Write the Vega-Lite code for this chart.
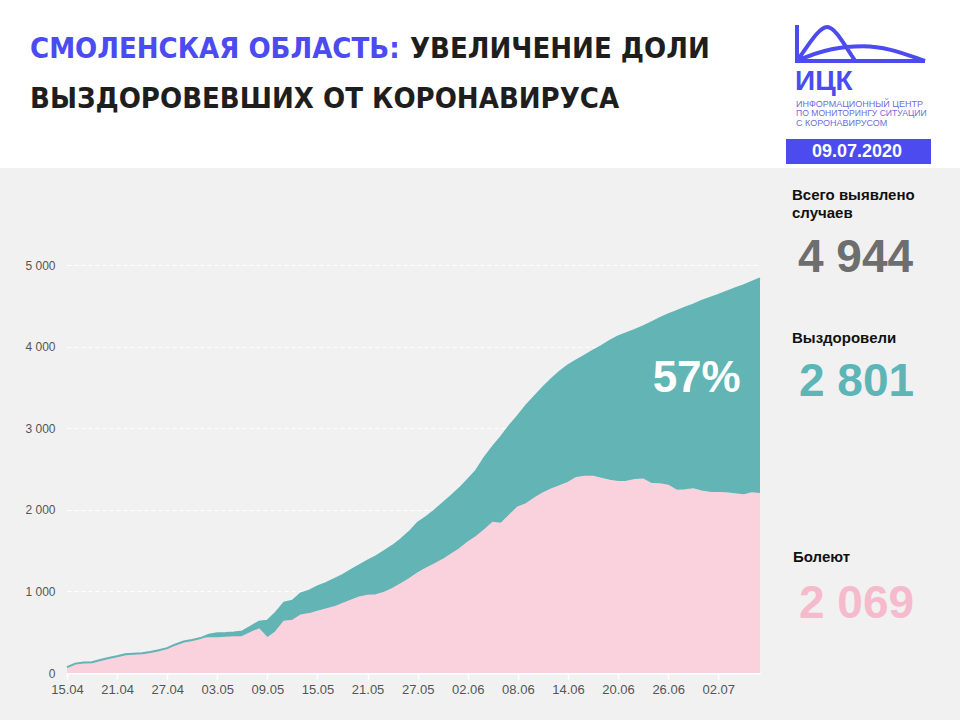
{
  "$schema": "https://vega.github.io/schema/vega-lite/v6.json",
  "width": 960,
  "height": 552,
  "autosize": {"type": "none"},
  "padding": {"left": 0, "top": 168, "right": 0, "bottom": 0},
  "background": "white",
  "config": {"view": {"fill": "#f1f1f1", "stroke": null}, "font": "Liberation Sans"},
  "layer": [
    {
      "data": {"values": [
        {"date": "2020-04-15", "sick": 72, "recovered": 0},
        {"date": "2020-04-16", "sick": 115, "recovered": 0},
        {"date": "2020-04-17", "sick": 128, "recovered": 0},
        {"date": "2020-04-18", "sick": 133, "recovered": 0},
        {"date": "2020-04-19", "sick": 160, "recovered": 0},
        {"date": "2020-04-20", "sick": 185, "recovered": 0},
        {"date": "2020-04-21", "sick": 205, "recovered": 0},
        {"date": "2020-04-22", "sick": 230, "recovered": 0},
        {"date": "2020-04-23", "sick": 237, "recovered": 0},
        {"date": "2020-04-24", "sick": 241, "recovered": 0},
        {"date": "2020-04-25", "sick": 258, "recovered": 0},
        {"date": "2020-04-26", "sick": 278, "recovered": 0},
        {"date": "2020-04-27", "sick": 305, "recovered": 0},
        {"date": "2020-04-28", "sick": 350, "recovered": 0},
        {"date": "2020-04-29", "sick": 385, "recovered": 0},
        {"date": "2020-04-30", "sick": 404, "recovered": 0},
        {"date": "2020-05-01", "sick": 420, "recovered": 8},
        {"date": "2020-05-02", "sick": 425, "recovered": 45},
        {"date": "2020-05-03", "sick": 425, "recovered": 61},
        {"date": "2020-05-04", "sick": 432, "recovered": 58},
        {"date": "2020-05-05", "sick": 437, "recovered": 60},
        {"date": "2020-05-06", "sick": 442, "recovered": 68},
        {"date": "2020-05-07", "sick": 490, "recovered": 80},
        {"date": "2020-05-08", "sick": 535, "recovered": 94},
        {"date": "2020-05-09", "sick": 425, "recovered": 215},
        {"date": "2020-05-10", "sick": 500, "recovered": 240},
        {"date": "2020-05-11", "sick": 629, "recovered": 233},
        {"date": "2020-05-12", "sick": 640, "recovered": 246},
        {"date": "2020-05-13", "sick": 705, "recovered": 270},
        {"date": "2020-05-14", "sick": 722, "recovered": 288},
        {"date": "2020-05-15", "sick": 752, "recovered": 308},
        {"date": "2020-05-16", "sick": 780, "recovered": 320},
        {"date": "2020-05-17", "sick": 805, "recovered": 345},
        {"date": "2020-05-18", "sick": 845, "recovered": 355},
        {"date": "2020-05-19", "sick": 886, "recovered": 374},
        {"date": "2020-05-20", "sick": 925, "recovered": 395},
        {"date": "2020-05-21", "sick": 947, "recovered": 429},
        {"date": "2020-05-22", "sick": 952, "recovered": 478},
        {"date": "2020-05-23", "sick": 985, "recovered": 510},
        {"date": "2020-05-24", "sick": 1030, "recovered": 530},
        {"date": "2020-05-25", "sick": 1090, "recovered": 550},
        {"date": "2020-05-26", "sick": 1150, "recovered": 580},
        {"date": "2020-05-27", "sick": 1222, "recovered": 618},
        {"date": "2020-05-28", "sick": 1280, "recovered": 630},
        {"date": "2020-05-29", "sick": 1330, "recovered": 660},
        {"date": "2020-05-30", "sick": 1385, "recovered": 695},
        {"date": "2020-05-31", "sick": 1450, "recovered": 720},
        {"date": "2020-06-01", "sick": 1516, "recovered": 747},
        {"date": "2020-06-02", "sick": 1600, "recovered": 770},
        {"date": "2020-06-03", "sick": 1665, "recovered": 815},
        {"date": "2020-06-04", "sick": 1750, "recovered": 890},
        {"date": "2020-06-05", "sick": 1842, "recovered": 931},
        {"date": "2020-06-06", "sick": 1830, "recovered": 1066},
        {"date": "2020-06-07", "sick": 1930, "recovered": 1100},
        {"date": "2020-06-08", "sick": 2030, "recovered": 1120},
        {"date": "2020-06-09", "sick": 2070, "recovered": 1210},
        {"date": "2020-06-10", "sick": 2140, "recovered": 1250},
        {"date": "2020-06-11", "sick": 2200, "recovered": 1300},
        {"date": "2020-06-12", "sick": 2250, "recovered": 1350},
        {"date": "2020-06-13", "sick": 2290, "recovered": 1403},
        {"date": "2020-06-14", "sick": 2330, "recovered": 1440},
        {"date": "2020-06-15", "sick": 2390, "recovered": 1440},
        {"date": "2020-06-16", "sick": 2406, "recovered": 1484},
        {"date": "2020-06-17", "sick": 2406, "recovered": 1544},
        {"date": "2020-06-18", "sick": 2380, "recovered": 1625},
        {"date": "2020-06-19", "sick": 2357, "recovered": 1713},
        {"date": "2020-06-20", "sick": 2340, "recovered": 1785},
        {"date": "2020-06-21", "sick": 2345, "recovered": 1820},
        {"date": "2020-06-22", "sick": 2365, "recovered": 1839},
        {"date": "2020-06-23", "sick": 2370, "recovered": 1878},
        {"date": "2020-06-24", "sick": 2315, "recovered": 1983},
        {"date": "2020-06-25", "sick": 2312, "recovered": 2038},
        {"date": "2020-06-26", "sick": 2295, "recovered": 2098},
        {"date": "2020-06-27", "sick": 2234, "recovered": 2201},
        {"date": "2020-06-28", "sick": 2240, "recovered": 2237},
        {"date": "2020-06-29", "sick": 2251, "recovered": 2264},
        {"date": "2020-06-30", "sick": 2225, "recovered": 2335},
        {"date": "2020-07-01", "sick": 2210, "recovered": 2385},
        {"date": "2020-07-02", "sick": 2206, "recovered": 2426},
        {"date": "2020-07-03", "sick": 2202, "recovered": 2470},
        {"date": "2020-07-04", "sick": 2190, "recovered": 2523},
        {"date": "2020-07-05", "sick": 2177, "recovered": 2573},
        {"date": "2020-07-06", "sick": 2202, "recovered": 2591},
        {"date": "2020-07-07", "sick": 2194, "recovered": 2643}
      ]},
      "transform": [{"fold": ["sick", "recovered"], "as": ["k", "v"]}],
      "mark": {"type": "area", "opacity": 1, "line": {"color": "white", "strokeWidth": 2}},
      "encoding": {
        "x": {
          "field": "date", "type": "temporal",
          "scale": {"type": "utc", "range": [67, 760],
            "domain": [{"year": 2020, "month": 4, "date": 15, "utc": true}, {"year": 2020, "month": 7, "date": 7, "utc": true}]},
          "axis": {
            "values": [
              {"year": 2020, "month": 4, "date": 15, "utc": true},
              {"year": 2020, "month": 4, "date": 21, "utc": true},
              {"year": 2020, "month": 4, "date": 27, "utc": true},
              {"year": 2020, "month": 5, "date": 3, "utc": true},
              {"year": 2020, "month": 5, "date": 9, "utc": true},
              {"year": 2020, "month": 5, "date": 15, "utc": true},
              {"year": 2020, "month": 5, "date": 21, "utc": true},
              {"year": 2020, "month": 5, "date": 27, "utc": true},
              {"year": 2020, "month": 6, "date": 2, "utc": true},
              {"year": 2020, "month": 6, "date": 8, "utc": true},
              {"year": 2020, "month": 6, "date": 14, "utc": true},
              {"year": 2020, "month": 6, "date": 20, "utc": true},
              {"year": 2020, "month": 6, "date": 26, "utc": true},
              {"year": 2020, "month": 7, "date": 2, "utc": true}
            ],
            "format": "%d.%m",
            "title": null, "grid": false, "offset": -47,
            "domainColor": "white", "domainWidth": 2,
            "tickColor": "white", "tickSize": 6, "tickWidth": 1.5,
            "labelColor": "#555555", "labelFontSize": 13, "labelPadding": 4,
            "labelFlush": false, "labelOverlap": false
          }
        },
        "y": {
          "field": "v", "type": "quantitative", "stack": "zero",
          "scale": {"domain": [0, 5000], "range": [505, 97], "nice": false},
          "axis": {
            "values": [0, 1000, 2000, 3000, 4000, 5000],
            "labelExpr": "replace(format(datum.value, ','), ',', ' ')",
            "title": null, "domain": false, "ticks": false, "offset": -67,
            "labelPadding": 12, "labelColor": "#555555", "labelFontSize": 12,
            "grid": true, "gridColor": "white", "gridDash": [4, 3], "gridWidth": 1
          }
        },
        "color": {"field": "k", "type": "nominal",
          "scale": {"domain": ["sick", "recovered"], "range": ["#f9d2de", "#62b4b5"]}, "legend": null},
        "order": {"field": "k", "sort": "descending"}
      }
    },
    {
      "data": {"values": [{"d": "2020-06-29T10:00:00Z", "v": 3440, "label": "57%"}]},
      "mark": {"type": "text", "align": "center", "baseline": "alphabetic", "fontSize": 44, "fontWeight": "bold", "color": "white", "font": "Liberation Sans"},
      "encoding": {"x": {"field": "d", "type": "temporal"}, "y": {"field": "v", "type": "quantitative"}, "text": {"field": "label"}}
    },
    {
      "data": {"values": [{}]},
      "mark": {"type": "text", "text": "СМОЛЕНСКАЯ ОБЛАСТЬ:", "align": "left", "baseline": "alphabetic", "font": "DejaVu Sans Condensed, DejaVu Sans, sans-serif", "fontSize": 29, "fontWeight": "bold", "color": "#4b4bef"},
      "encoding": {"x": {"value": 30}, "y": {"value": -110}}
    },
    {
      "data": {"values": [{}]},
      "mark": {"type": "text", "text": "УВЕЛИЧЕНИЕ ДОЛИ", "align": "left", "baseline": "alphabetic", "font": "DejaVu Sans Condensed, DejaVu Sans, sans-serif", "fontSize": 29, "fontWeight": "bold", "color": "#1e1e1e"},
      "encoding": {"x": {"value": 410}, "y": {"value": -110}}
    },
    {
      "data": {"values": [{}]},
      "mark": {"type": "text", "text": "ВЫЗДОРОВЕВШИХ ОТ КОРОНАВИРУСА", "align": "left", "baseline": "alphabetic", "font": "DejaVu Sans Condensed, DejaVu Sans, sans-serif", "fontSize": 29, "fontWeight": "bold", "color": "#1e1e1e"},
      "encoding": {"x": {"value": 30}, "y": {"value": -60}}
    },
    {
      "data": {"values": [{}]},
      "mark": {"type": "point", "shape": "M-1,-0.28 L-1,0.28 L1,0.28 M-1,0.28 C-0.8,0 -0.65,-0.25 -0.53,-0.25 C-0.4,-0.25 -0.25,0.05 -0.09,0.28 M-1,0.28 C-0.6,0.1 -0.3,0.05 0.03,0.05 C0.4,0.05 0.7,0.18 1,0.28", "filled": false, "stroke": "#4b4bef", "strokeWidth": 4, "size": 16384, "opacity": 1},
      "encoding": {"x": {"value": 861}, "y": {"value": -125}}
    },
    {
      "data": {"values": [{}]},
      "mark": {"type": "text", "text": "ИЦК", "align": "left", "baseline": "alphabetic", "fontSize": 28, "fontWeight": "bold", "color": "#4b4bef"},
      "encoding": {"x": {"value": 795}, "y": {"value": -78}}
    },
    {
      "data": {"values": [{}]},
      "mark": {"type": "text", "text": "ИНФОРМАЦИОННЫЙ ЦЕНТР", "align": "left", "baseline": "alphabetic", "fontSize": 9, "color": "#6e6ed8"},
      "encoding": {"x": {"value": 796}, "y": {"value": -61}}
    },
    {
      "data": {"values": [{}]},
      "mark": {"type": "text", "text": "ПО МОНИТОРИНГУ СИТУАЦИИ", "align": "left", "baseline": "alphabetic", "fontSize": 8.6, "color": "#6e6ed8"},
      "encoding": {"x": {"value": 796}, "y": {"value": -52}}
    },
    {
      "data": {"values": [{}]},
      "mark": {"type": "text", "text": "С КОРОНАВИРУСОМ", "align": "left", "baseline": "alphabetic", "fontSize": 9, "color": "#6e6ed8"},
      "encoding": {"x": {"value": 796}, "y": {"value": -42}}
    },
    {
      "data": {"values": [{}]},
      "mark": {"type": "rect", "color": "#4b4bef"},
      "encoding": {"x": {"value": 786}, "x2": {"value": 931}, "y": {"value": -29}, "y2": {"value": -4}}
    },
    {
      "data": {"values": [{}]},
      "mark": {"type": "text", "text": "09.07.2020", "align": "center", "baseline": "alphabetic", "fontSize": 18, "fontWeight": "bold", "color": "white"},
      "encoding": {"x": {"value": 857}, "y": {"value": -11}}
    },
    {
      "data": {"values": [{}]},
      "mark": {"type": "text", "text": "Всего выявлено", "align": "left", "baseline": "alphabetic", "fontSize": 15, "fontWeight": "bold", "color": "#111111"},
      "encoding": {"x": {"value": 792}, "y": {"value": 32}}
    },
    {
      "data": {"values": [{}]},
      "mark": {"type": "text", "text": "случаев", "align": "left", "baseline": "alphabetic", "fontSize": 15, "fontWeight": "bold", "color": "#111111"},
      "encoding": {"x": {"value": 792}, "y": {"value": 50}}
    },
    {
      "data": {"values": [{}]},
      "mark": {"type": "text", "text": "4 944", "align": "left", "baseline": "alphabetic", "fontSize": 46, "fontWeight": "bold", "color": "#6d6e6e"},
      "encoding": {"x": {"value": 798}, "y": {"value": 104}}
    },
    {
      "data": {"values": [{}]},
      "mark": {"type": "text", "text": "Выздоровели", "align": "left", "baseline": "alphabetic", "fontSize": 15, "fontWeight": "bold", "color": "#111111"},
      "encoding": {"x": {"value": 792}, "y": {"value": 175}}
    },
    {
      "data": {"values": [{}]},
      "mark": {"type": "text", "text": "2 801", "align": "left", "baseline": "alphabetic", "fontSize": 46, "fontWeight": "bold", "color": "#5db5b6"},
      "encoding": {"x": {"value": 799}, "y": {"value": 228}}
    },
    {
      "data": {"values": [{}]},
      "mark": {"type": "text", "text": "Болеют", "align": "left", "baseline": "alphabetic", "fontSize": 15, "fontWeight": "bold", "color": "#111111"},
      "encoding": {"x": {"value": 793}, "y": {"value": 394}}
    },
    {
      "data": {"values": [{}]},
      "mark": {"type": "text", "text": "2 069", "align": "left", "baseline": "alphabetic", "fontSize": 46, "fontWeight": "bold", "color": "#f6bacd"},
      "encoding": {"x": {"value": 799}, "y": {"value": 450}}
    }
  ]
}
